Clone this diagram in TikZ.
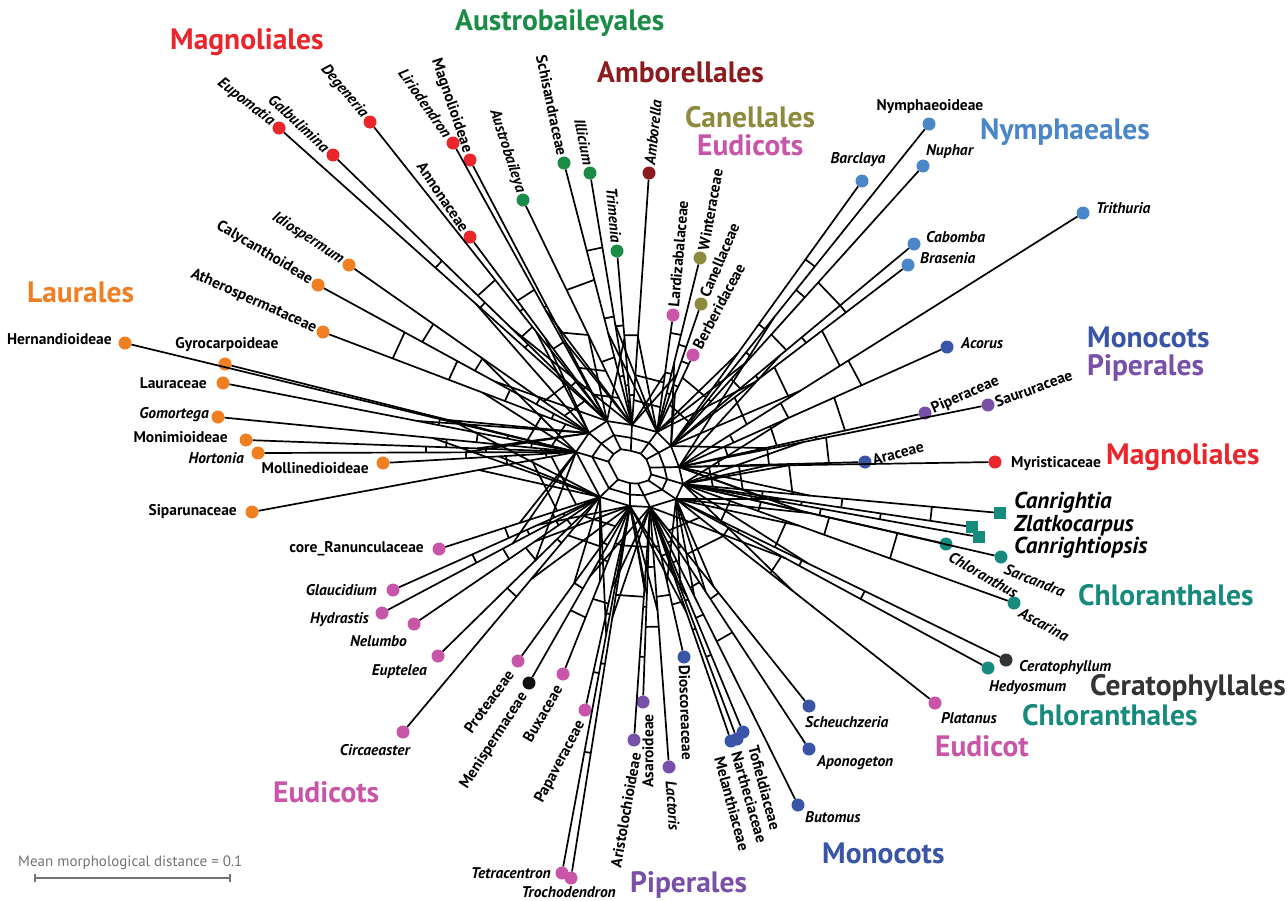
\documentclass[tikz,border=0pt]{standalone}
\usepackage{fontspec}
\setmainfont{PT Sans}
\usetikzlibrary{calc}
\definecolor{red}{HTML}{E8262B}
\definecolor{grn}{HTML}{1A8C46}
\definecolor{amb}{HTML}{8C1A1E}
\definecolor{olv}{HTML}{8C8A3C}
\definecolor{pnk}{HTML}{C855A8}
\definecolor{lbl}{HTML}{4A86C8}
\definecolor{dbl}{HTML}{3A54A8}
\definecolor{pur}{HTML}{7850AA}
\definecolor{ora}{HTML}{F07F22}
\definecolor{teal}{HTML}{168A7D}
\definecolor{cer}{HTML}{333333}
\definecolor{blk}{HTML}{111111}
\newcommand\leaffnt{\fontsize{15.5}{17}\selectfont\bfseries}
\newcommand\grpfnt{\fontsize{29.5}{32}\selectfont\bfseries}
\newcommand\bigleaffnt{\fontsize{23}{25}\selectfont\bfseries\itshape}
\begin{document}
\begin{tikzpicture}[x=1pt,y=-1pt,
  edge/.style={line width=1.7pt, line join=round, black},
  dot/.style={circle, fill=#1, minimum size=13pt, inner sep=0pt},
  sq/.style={rectangle, fill=#1, minimum size=12pt, inner sep=0pt},
  lab/.style={font=\leaffnt, inner sep=1pt, text=black},
  ilab/.style={font=\leaffnt\itshape, inner sep=1pt, text=black},
  rlab/.style={lab, outer sep=7pt},
  rilab/.style={ilab, outer sep=7pt},
  blab/.style={font=\bigleaffnt, inner sep=1pt, text=black, anchor=west},
  grp/.style={font=\grpfnt, text=#1, anchor=west, inner sep=0pt}]
\fill[white] (0,0) rectangle (1288,900);
\useasboundingbox (0,0) rectangle (1288,900);

% hubs of the network
\coordinate (C) at (630,468);
\coordinate (hL) at (576,452);
\coordinate (hTLb) at (589,433);
\coordinate (hTL) at (607,421);
\coordinate (hT) at (632,425);
\coordinate (hTb) at (657,432);
\coordinate (hTR) at (671,446);
\coordinate (hR) at (679,467);
\coordinate (hRb) at (683,484);
\coordinate (hBR) at (676,499);
\coordinate (hB) at (650,507);
\coordinate (hBb) at (630,506);
\coordinate (hBL) at (600,497);

% leaves
\foreach \n/\x/\y/\c in {sip/252/512/ora, mol/383/463/ora, hor/258/453/ora, mon/246/440/ora,
  gom/218/417/ora, lau/223/383/ora, gyr/225/364/ora, her/125/343/ora, ath/323/332/ora,
  cal/318/285/ora, idi/349/265/ora, eup/279/128/red, gal/333/155/red, deg/370/122/red,
  ann/470/237/red, lir/453/143/red, mag/470/160/red, aus/523/200/grn, sch/564/163/grn,
  ill/590/173/grn, tri/617/251/grn, amb/649/173/amb, lar/673/315/pnk, win/700/258/olv,
  can/701/304/olv, ber/693/355/pnk, bar/862/181/lbl, nym/929/124/lbl, nup/923/166/lbl,
  cab/914/244/lbl, bra/908/265/lbl, trt/1083/213/lbl, aco/947/347/dbl, pip/925/413/pur,
  sau/988/405/pur, ara/865/462/dbl, myr/995/462/red, chl/946/544/teal, sar/1001/557/teal,
  asc/1014/603/teal, cer/1006/660/cer, hed/988/668/teal, pla/935/703/pnk, sce/809/706/dbl,
  apo/809/749/dbl, but/798/805/dbl, tof/743/732/dbl, nar/737/739/dbl, mel/731/741/dbl,
  dio/684/657/dbl, lac/669/767/pur, asa/643/702/pur, ari/634/740/pur, tro/571/878/pnk,
  tet/562/873/pnk, pap/585/710/pnk, bux/563/674/pnk, men/529/683/blk, pro/518/661/pnk,
  cir/403/732/pnk, eut/438/656/pnk, nel/414/624/pnk, hyd/382/613/pnk, gla/393/590/pnk,
  cor/439/549/pnk}
  {\node[dot=\c] (\n) at (\x,\y) {};}
\node[sq=teal] (cnr) at (1000,513) {};
\node[sq=teal] (zla) at (972,527) {};
\node[sq=teal] (cro) at (979,537) {};

% hub of every leaf, its pendant line and a second strand to a nearby hub
\foreach \n/\h/\g/\f in {sip/hL/hBL/.3, mol/hL/hBL/.4, hor/hL/hTLb/.35, mon/hL/hTLb/.3,
  gom/hL/hBL/.4, lau/hL/hTLb/.45, gyr/hL/hBL/.35, her/hL/hTLb/.3,
  ath/hTLb/hL/.4, cal/hTLb/hTL/.35, idi/hTLb/hL/.45,
  eup/hTL/hTLb/.4, gal/hTL/hT/.35, deg/hTL/hTLb/.3, ann/hTL/hTLb/.45, lir/hTL/hT/.4, mag/hTL/hT/.3,
  aus/hT/hTL/.4, sch/hT/hTb/.35, ill/hT/hTb/.4, tri/hT/hTL/.5, amb/hT/hTb/.35,
  lar/hTb/hT/.5, win/hTb/hTR/.4, can/hTb/hT/.45, ber/hTb/hTR/.5,
  bar/hTR/hTb/.35, nym/hTR/hR/.4, nup/hTR/hTb/.3, cab/hTR/hR/.45, bra/hTR/hTb/.35,
  trt/hR/hTR/.3, aco/hR/hRb/.4, pip/hR/hTR/.35, sau/hR/hRb/.4, ara/hR/hRb/.5, myr/hR/hRb/.35,
  cnr/hRb/hR/.4, zla/hRb/hBR/.35, cro/hRb/hR/.3, chl/hRb/hR/.45, sar/hRb/hBR/.4, asc/hRb/hBR/.35,
  cer/hBR/hRb/.4, hed/hBR/hB/.35, pla/hBR/hRb/.45,
  sce/hB/hBR/.4, apo/hB/hBR/.35, but/hB/hBR/.3, tof/hB/hBb/.4, nar/hB/hBR/.35, mel/hB/hBb/.45,
  dio/hB/hBR/.5, lac/hB/hBb/.4, asa/hB/hBb/.45, ari/hB/hBb/.35,
  tro/hBb/hB/.3, tet/hBb/hBL/.35, pap/hBb/hB/.4, bux/hBb/hBL/.45, men/hBb/hB/.4, pro/hBb/hBL/.5,
  cir/hBL/hBb/.35, eut/hBL/hL/.4, nel/hBL/hBb/.35, hyd/hBL/hL/.4, gla/hBL/hBb/.3, cor/hBL/hL/.5}
  {\coordinate (\n-h) at (\h);
   \draw[edge] (\n) -- (\n-h);
   \draw[edge] ($(\n-h)!\f!(\n)$) -- (\g);}

% rungs between neighbouring branches
\foreach \a/\b/\ds in {sip/mol/{30,70}, mol/hor/{30,60,110}, hor/mon/{40,90,150},
  mon/gom/{35,80,130}, gom/lau/{45,100}, lau/gyr/{30,70,140}, gyr/her/{55,120},
  her/ath/{25,50}, ath/cal/{40,90,150,210}, cal/idi/{60,130,190}, idi/eup/{30,55},
  eup/gal/{60,110,170,230}, gal/deg/{50,120,180}, deg/ann/{70,140}, ann/lir/{40,90,150},
  lir/mag/{50,130}, mag/aus/{30,60,100}, aus/sch/{70,150}, sch/ill/{50,110,180},
  ill/tri/{40,100}, tri/amb/{30,90}, amb/lar/{25,50}, lar/win/{60,100}, win/can/{40,90},
  can/ber/{50,75}, ber/bar/{30,60}, bar/nym/{80,150,230}, nym/nup/{60,120,200},
  nup/cab/{90,150,220}, cab/bra/{50,110,170,220}, bra/trt/{80,130,190}, trt/aco/{60,120,200},
  aco/pip/{50,100,170}, pip/sau/{70,140}, sau/ara/{40,90,150}, ara/myr/{60,120},
  myr/cnr/{30,60,110}, cnr/zla/{80,160,250}, zla/cro/{50,120,200}, cro/chl/{70,140},
  chl/sar/{60,110,190,240}, sar/asc/{80,150,220}, asc/cer/{50,110}, cer/hed/{70,140,210},
  hed/pla/{60,120}, pla/sce/{30,60}, sce/apo/{50,110}, apo/but/{40,90,150}, but/tof/{60,120},
  tof/nar/{40,100,160}, nar/mel/{70,130}, mel/dio/{50,100}, dio/lac/{40,90}, lac/asa/{60,120},
  asa/ari/{50,100,150}, ari/tro/{40,90}, tro/tet/{80,160,250}, tet/pap/{50,110,170},
  pap/bux/{40,100}, bux/men/{60,120}, men/pro/{45,95}, pro/cir/{25,50}, cir/eut/{60,130},
  eut/nel/{40,90}, nel/hyd/{50,110}, hyd/gla/{40,80,140}, gla/cor/{50,100}, cor/sip/{25,45}}
  {\foreach \d in \ds {\draw[edge] ($(\a-h)!\d pt!(\a)$) -- ($(\b-h)!\d pt!(\b)$);}}

% central web
\draw[edge] (hL) -- (hTLb) -- (hTL) -- (hT) -- (hTb) -- (hTR) -- (hR) -- (hRb) -- (hBR)
  -- (hB) -- (hBb) -- (hBL) -- cycle;
\foreach \h in {hL,hTLb,hTL,hT,hTb,hTR,hR,hRb,hBR,hB,hBb,hBL}
  {\coordinate (\h-i) at ($(C)!0.4!(\h)$);
   \coordinate (\h-m) at ($(C)!0.7!(\h)$);
   \draw[edge] (\h) -- (\h-i);}
\draw[edge] (hL-i) -- (hTLb-i) -- (hTL-i) -- (hT-i) -- (hTb-i) -- (hTR-i) -- (hR-i) -- (hRb-i)
  -- (hBR-i) -- (hB-i) -- (hBb-i) -- (hBL-i) -- cycle;
\draw[edge] (hL-m) -- (hTLb-m) -- (hTL-m) -- (hT-m) -- (hTb-m) -- (hTR-m) -- (hR-m) -- (hRb-m)
  -- (hBR-m) -- (hB-m) -- (hBb-m) -- (hBL-m) -- cycle;

% leaf labels: rotated ones
\node[rilab, rotate=-38, anchor=east] (eup-l) at (eup) {Eupomatia};
\node[rilab, rotate=-43, anchor=east] (gal-l) at (gal) {Galbulimina};
\node[rilab, rotate=-50, anchor=east] (deg-l) at (deg) {Degeneria};
\node[rilab, rotate=-55, anchor=east] (lir-l) at (lir) {Liriodendron};
\node[rlab, rotate=-71, anchor=east] (mag-l) at (mag) {Magnolioideae};
\node[rlab, rotate=-56, anchor=east] (ann-l) at (ann) {Annonaceae};
\node[rilab, rotate=-72, anchor=east] (aus-l) at (aus) {Austrobaileya};
\node[rlab, rotate=-78, anchor=east] (sch-l) at (sch) {Schisandraceae};
\node[rilab, rotate=-79, anchor=east] (ill-l) at (ill) {Illicium};
\node[rilab, rotate=-85, anchor=east] (tri-l) at (tri) {Trimenia};
\node[rilab, rotate=84, anchor=west] (amb-l) at (amb) {Amborella};
\node[rlab, rotate=85, anchor=west] (lar-l) at (lar) {Lardizabalaceae};
\node[rlab, rotate=80, anchor=west] (win-l) at ([xshift=2pt]win) {Winteraceae};
\node[rlab, rotate=67, anchor=west] (can-l) at (can) {Canellaceae};
\node[rlab, rotate=62, anchor=west] (ber-l) at (ber) {Berberidaceae};
\node[rilab, rotate=-33, anchor=east] (idi-l) at (idi) {Idiospermum};
\node[rlab, rotate=-31, anchor=east] (cal-l) at (cal) {Calycanthoideae};
\node[rlab, rotate=-24, anchor=east] (ath-l) at (ath) {Atherospermataceae};
\node[rlab, rotate=24, anchor=west] (pip-l) at (pip) {Piperaceae};
\node[rlab, rotate=20, anchor=west] (sau-l) at (sau) {Saururaceae};
\node[rlab, rotate=15, anchor=west] (ara-l) at (ara) {Araceae};
\node[ilab, rotate=-30, anchor=west] (chl-l) at (949,555) {Chloranthus};
\node[ilab, rotate=-22, anchor=west] (sar-l) at (1004,568) {Sarcandra};
\node[ilab, rotate=-28, anchor=west] (asc-l) at (1019,611) {Ascarina};
\node[rlab, rotate=-88, anchor=west] (dio-l) at (dio) {Dioscoreaceae};
\node[lab, rotate=-75, anchor=west] (tof-l) at (753,745) {Tofieldiaceae};
\node[lab, rotate=-74, anchor=west] (nar-l) at (736,751) {Nartheciaceae};
\node[lab, rotate=-75, anchor=west] (mel-l) at (719,756) {Melanthiaceae};
\node[ilab, rotate=-86, anchor=west] (lac-l) at (671,780) {Lactoris};
\node[lab, rotate=90, anchor=east] (asa-l) at (648,713) {Asaroideae};
\node[lab, rotate=80, anchor=east] (ari-l) at (636,752) {Aristolochioideae};
\node[lab, rotate=62, anchor=east] (pap-l) at (582,721) {Papaveraceae};
\node[lab, rotate=60, anchor=east] (bux-l) at (559,685) {Buxaceae};
\node[lab, rotate=57, anchor=east] (men-l) at (525,693) {Menispermaceae};
\node[lab, rotate=54, anchor=east] (pro-l) at (511,671) {Proteaceae};

% leaf labels: horizontal ones
\node[lab, anchor=east] (her-l) at (113,339) {Hernandioideae};
\node[lab] (gyr-l) at (227,345) {Gyrocarpoideae};
\node[lab, anchor=east] (lau-l) at (208,383) {Lauraceae};
\node[ilab, anchor=east] (gom-l) at (210,415) {Gomortega};
\node[lab, anchor=east] (mon-l) at (229,437) {Monimioideae};
\node[ilab, anchor=east] (hor-l) at (245,458) {Hortonia};
\node[lab, anchor=east] (mol-l) at (370,468) {Mollinedioideae};
\node[lab, anchor=east] (sip-l) at (238,512) {Siparunaceae};
\node[lab, anchor=east] (cor-l) at (425,549) {core\_Ranunculaceae};
\node[ilab, anchor=east] (gla-l) at (378,590) {Glaucidium};
\node[ilab, anchor=east] (hyd-l) at (370,620) {Hydrastis};
\node[ilab, anchor=east] (nel-l) at (408,641) {Nelumbo};
\node[ilab, anchor=east] (eut-l) at (428,672) {Euptelea};
\node[ilab, anchor=east] (cir-l) at (411,750) {Circaeaster};
\node[ilab, anchor=east] (tet-l) at (552,873) {Tetracentron};
\node[ilab, anchor=east] (tro-l) at (617,892) {Trochodendron};
\node[lab] (nym-l) at (930,107) {Nymphaeoideae};
\node[ilab, anchor=west] (nup-l) at (925,152) {Nuphar};
\node[ilab] (bar-l) at (858,160) {Barclaya};
\node[ilab, anchor=west] (cab-l) at (925,237) {Cabomba};
\node[ilab, anchor=west] (bra-l) at (919,258) {Brasenia};
\node[ilab, anchor=west] (trt-l) at (1095,208) {Trithuria};
\node[ilab, anchor=west] (aco-l) at (960,343) {Acorus};
\node[lab, anchor=west] (myr-l) at (1010,464) {Myristicaceae};
\node[blab] (cnr-l) at (1013,503) {Canrightia};
\node[blab] (zla-l) at (1013,526) {Zlatkocarpus};
\node[blab] (cro-l) at (1013,548) {Canrightiopsis};
\node[ilab, anchor=west] (cer-l) at (1018,668) {Ceratophyllum};
\node[ilab, anchor=west] (hed-l) at (988,688) {Hedyosmum};
\node[ilab, anchor=west] (pla-l) at (940,718) {Platanus};
\node[ilab, anchor=west] (sce-l) at (804,722) {Scheuchzeria};
\node[ilab, anchor=west] (apo-l) at (816,763) {Aponogeton};
\node[ilab, anchor=west] (but-l) at (804,817) {Butomus};

% group labels
\node[grp=red] (g1) at (170,42) {Magnoliales};
\node[grp=grn] (g2) at (455,23) {Austrobaileyales};
\node[grp=amb] (g3) at (597,72) {Amborellales};
\node[grp=olv] (g4) at (685,117) {Canellales};
\node[grp=pnk] (g5) at (697,145) {Eudicots};
\node[grp=lbl] (g6) at (980,132) {Nymphaeales};
\node[grp=ora] (g7) at (27,292) {Laurales};
\node[grp=dbl] (g8) at (1087,337) {Monocots};
\node[grp=pur] (g9) at (1087,368) {Piperales};
\node[grp=red] (g10) at (1106,457) {Magnoliales};
\node[grp=teal] (g11) at (1078,595) {Chloranthales};
\node[grp=cer] (g12) at (1090,688) {Ceratophyllales};
\node[grp=teal] (g13) at (1022,715) {Chloranthales};
\node[grp=pnk] (g14) at (935,746) {Eudicot};
\node[grp=pnk] (g15) at (273,792) {Eudicots};
\node[grp=dbl] (g16) at (822,853) {Monocots};
\node[grp=pur] (g17) at (630,885) {Piperales};

% scale bar
\node[font=\fontsize{15}{17}\selectfont, text=black!55, anchor=west, inner sep=0pt] (sbt) at (18,863) {Mean morphological distance = 0.1};
\coordinate (sb1) at (35,878);
\coordinate (sb2) at (230,878);
\draw[black!55, line width=1.5pt] (sb1) -- (sb2);
\draw[black!55, line width=1.5pt] ([yshift=4pt]sb1) -- ([yshift=-4pt]sb1);
\draw[black!55, line width=1.5pt] ([yshift=4pt]sb2) -- ([yshift=-4pt]sb2);
\end{tikzpicture}
\end{document}
